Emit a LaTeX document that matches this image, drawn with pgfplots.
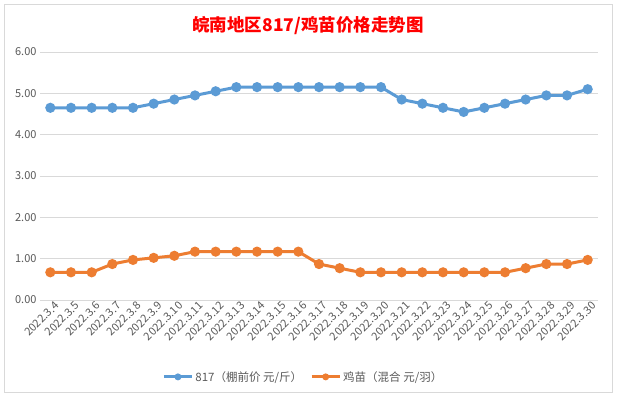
\documentclass[border=0pt]{standalone}
\usepackage{fontspec}
\setmainfont{Noto Sans CJK SC}
\usepackage{pgfplots}
\pgfplotsset{compat=1.18}
\definecolor{sblue}{HTML}{5B9BD5}
\definecolor{sorange}{HTML}{ED7D31}
\definecolor{tgray}{HTML}{595959}
\definecolor{ggray}{HTML}{D9D9D9}
\begin{document}
\begin{tikzpicture}
\useasboundingbox (0pt,0pt) rectangle (617pt,397pt);
\fill[white] (0pt,0pt) rectangle (617pt,397pt);
\draw[ggray] (4.5pt,4.5pt) rectangle (612.5pt,392.5pt);
\node[text=red, font=\fontsize{17.5}{20}\selectfont\bfseries] at (308pt,371pt) {皖南地区817/鸡苗价格走势图};
\begin{axis}[
  at={(40pt,97pt)}, anchor=south west, scale only axis,
  width=558pt, height=248pt,
  xmin=-0.5, xmax=26.5, ymin=0, ymax=6,
  ytick={0,1,2,3,4,5,6},
  xtick={0,...,26},
  xticklabels={2022.3.4,2022.3.5,2022.3.6,2022.3.7,2022.3.8,2022.3.9,2022.3.10,2022.3.11,2022.3.12,2022.3.13,2022.3.14,2022.3.15,2022.3.16,2022.3.17,2022.3.18,2022.3.19,2022.3.20,2022.3.21,2022.3.22,2022.3.23,2022.3.24,2022.3.25,2022.3.26,2022.3.27,2022.3.28,2022.3.29,2022.3.30},
  xticklabel style={rotate=45, anchor=north east, inner sep=1pt, xshift=3pt, yshift=-2pt, font=\fontsize{11}{12}\selectfont, text=tgray},
  yticklabel style={font=\fontsize{11}{12}\selectfont, text=tgray, /pgf/number format/fixed, /pgf/number format/precision=2, /pgf/number format/fixed zerofill},
  /pgf/number format/assume math mode=true,
  ymajorgrids, grid style={ggray, line width=0.8pt},
  axis line style={draw=none},
  major tick length=0pt,
  legend style={at={(0.472,-0.31)}, anchor=center, draw=none, legend columns=2, font=\fontsize{11.5}{12}\selectfont, text=tgray, /tikz/every even column/.append style={column sep=6pt}},
  legend image code/.code={\draw[#1, line width=3pt] (0pt,0pt) -- (28pt,0pt); \fill[#1, draw=none] (14pt,0pt) circle (3.5pt);},
]
\addplot[sblue, line width=3pt, mark=*, mark size=3.5pt, mark options={draw=sblue, fill=sblue}] coordinates {
(0,4.65)(1,4.65)(2,4.65)(3,4.65)(4,4.65)(5,4.75)(6,4.85)(7,4.95)(8,5.05)(9,5.15)(10,5.15)(11,5.15)(12,5.15)(13,5.15)(14,5.15)(15,5.15)(16,5.15)(17,4.85)(18,4.75)(19,4.65)(20,4.55)(21,4.65)(22,4.75)(23,4.85)(24,4.95)(25,4.95)(26,5.10)};
\addlegendentry{817（棚前价 元/斤）}
\addplot[sorange, line width=3pt, mark=*, mark size=3.5pt, mark options={draw=sorange, fill=sorange}] coordinates {
(0,0.67)(1,0.67)(2,0.67)(3,0.87)(4,0.97)(5,1.02)(6,1.07)(7,1.17)(8,1.17)(9,1.17)(10,1.17)(11,1.17)(12,1.17)(13,0.87)(14,0.77)(15,0.67)(16,0.67)(17,0.67)(18,0.67)(19,0.67)(20,0.67)(21,0.67)(22,0.67)(23,0.77)(24,0.87)(25,0.87)(26,0.97)};
\addlegendentry{鸡苗（混合 元/羽）}
\end{axis}
\end{tikzpicture}
\end{document}
